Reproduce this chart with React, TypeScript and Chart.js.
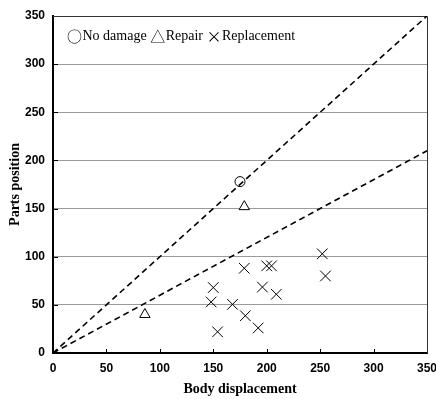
import React, { useEffect, useRef } from "react";
import { Chart, registerables } from "chart.js";

Chart.register(...registerables);

const xTicks = [0, 50, 100, 150, 200, 250, 300, 350];
const yTicks = [0, 50, 100, 150, 200, 250, 300, 350];

const noDamageX = [175];
const noDamageY = [178];
const repairX = [86, 179];
const repairY = [40, 152];
const replacementX = [150, 148, 154, 168, 179, 180, 192, 196, 200, 204.5, 209, 252, 255];
const replacementY = [68, 53, 22, 50.5, 88, 38.7, 26, 68.5, 90.5, 90.5, 61, 103, 80];

const upperLineX = [0, 350];
const upperLineY = [0, 350];
const lowerLineX = [0, 350];
const lowerLineY = [0, 210];

const legendSymbols = ["○", "△", "×"];
const legendLabels = ["No damage", "Repair", "Replacement"];
const xTitle = "Body displacement";
const yTitle = "Parts position";

const zip = (xs: number[], ys: number[]) => xs.map((x, i) => ({ x, y: ys[i] }));

const framePlugin = {
  id: "frame",
  beforeDatasetsDraw(chart: any) {
    const { ctx, chartArea } = chart;
    const xs = chart.scales.x;
    const ys = chart.scales.y;
    ctx.save();
    ctx.strokeStyle = "#000";
    ctx.lineWidth = 1;
    ctx.beginPath();
    for (const v of xTicks.slice(1, -1)) {
      const px = Math.round(xs.getPixelForValue(v)) + 0.5;
      ctx.moveTo(px, chartArea.bottom);
      ctx.lineTo(px, chartArea.bottom - 4);
    }
    for (const v of yTicks.slice(1, -1)) {
      const py = Math.round(ys.getPixelForValue(v)) + 0.5;
      ctx.moveTo(chartArea.left, py);
      ctx.lineTo(chartArea.left + 5, py);
    }
    ctx.stroke();
    ctx.strokeStyle = "#333";
    ctx.beginPath();
    ctx.moveTo(chartArea.left, chartArea.top + 0.5);
    ctx.lineTo(chartArea.right + 0.5, chartArea.top + 0.5);
    ctx.lineTo(chartArea.right + 0.5, chartArea.bottom);
    ctx.stroke();
    ctx.restore();
  },
  afterDraw(chart: any) {
    const { ctx, chartArea } = chart;
    ctx.save();
    ctx.fillStyle = "#000";
    ctx.textBaseline = "middle";
    ctx.textAlign = "left";
    const symFont = "15px 'Noto Sans CJK JP', 'DejaVu Sans', sans-serif";
    const txtFont = "14px 'Liberation Serif', 'Times New Roman', serif";
    let x = chartArea.left + 14;
    const y = chartArea.top + 20;
    legendSymbols.forEach((s, i) => {
      ctx.font = symFont;
      ctx.fillText(s, x, y);
      x += ctx.measureText(s).width + 0.5;
      ctx.font = txtFont;
      const t = legendLabels[i] + (i < legendLabels.length - 1 ? " " : "");
      ctx.fillText(t, x, y);
      x += ctx.measureText(t).width;
    });
    ctx.restore();
  },
};

export default function App() {
  const ref = useRef<HTMLCanvasElement>(null);
  useEffect(() => {
    if (!ref.current) return;
    const chart = new Chart(ref.current, {
      type: "scatter",
      data: {
        datasets: [
          {
            label: "Upper",
            data: zip(upperLineX, upperLineY),
            showLine: true,
            borderColor: "#000",
            borderWidth: 1.6,
            borderDash: [6, 4],
            pointRadius: 0,
            fill: false,
          },
          {
            label: "Lower",
            data: zip(lowerLineX, lowerLineY),
            showLine: true,
            borderColor: "#000",
            borderWidth: 1.6,
            borderDash: [6, 4],
            pointRadius: 0,
            fill: false,
          },
          {
            label: "No damage",
            data: zip(noDamageX, noDamageY),
            pointStyle: "circle",
            pointRadius: 5,
            borderColor: "#000",
            backgroundColor: "#fff",
            borderWidth: 1,
          },
          {
            label: "Repair",
            data: zip(repairX, repairY),
            pointStyle: "triangle",
            pointRadius: 6,
            borderColor: "#000",
            backgroundColor: "#fff",
            borderWidth: 1,
          },
          {
            label: "Replacement",
            data: zip(replacementX, replacementY),
            pointStyle: "crossRot",
            pointRadius: 7.5,
            borderColor: "#000",
            backgroundColor: "#000",
            borderWidth: 1,
          },
        ],
      },
      options: {
        animation: false,
        responsive: false,
        maintainAspectRatio: false,
        layout: { padding: { top: 16, right: 9, left: 0, bottom: 0 } },
        plugins: {
          legend: { display: false },
          tooltip: { enabled: false },
        },
        scales: {
          x: {
            type: "linear",
            min: 0,
            max: 350,
            afterBuildTicks: (s: any) => {
              s.ticks = xTicks.map((v) => ({ value: v }));
            },
            afterFit: (s: any) => {
              s.height = 46;
              s.paddingLeft = 0;
              s.paddingRight = 0;
            },
            ticks: {
              color: "#000",
              font: { family: "'Liberation Sans', Arial, sans-serif", size: 12, weight: "bold" },
              padding: 8,
              maxRotation: 0,
            },
            grid: { drawOnChartArea: false, drawTicks: false },
            border: { display: true, color: "#000", width: 2 },
            title: {
              display: true,
              text: xTitle,
              color: "#000",
              font: { family: "'Liberation Serif', 'Times New Roman', serif", size: 14, weight: "bold" },
              padding: { top: 0, bottom: 1 },
            },
          },
          y: {
            type: "linear",
            min: 0,
            max: 350,
            afterBuildTicks: (s: any) => {
              s.ticks = yTicks.map((v) => ({ value: v }));
            },
            afterFit: (s: any) => {
              s.width = 53;
              s.paddingTop = 0;
              s.paddingBottom = 0;
            },
            ticks: {
              color: "#000",
              font: { family: "'Liberation Sans', Arial, sans-serif", size: 12, weight: "bold" },
              padding: 8,
            },
            grid: { color: "#9a9a9a", lineWidth: 1, drawTicks: false },
            border: { display: true, color: "#000", width: 2 },
            title: {
              display: true,
              text: yTitle,
              color: "#000",
              font: { family: "'Liberation Serif', 'Times New Roman', serif", size: 14, weight: "bold" },
              padding: { top: 6.5, bottom: 0 },
            },
          },
        },
      },
      plugins: [framePlugin],
    });
    return () => chart.destroy();
  }, []);
  return (
    <div style={{ position: "fixed", left: 0, top: 0, width: 436, height: 399, background: "#fff" }}>
      <canvas ref={ref} width={436} height={399} style={{ width: 436, height: 399, display: "block" }} />
    </div>
  );
}
